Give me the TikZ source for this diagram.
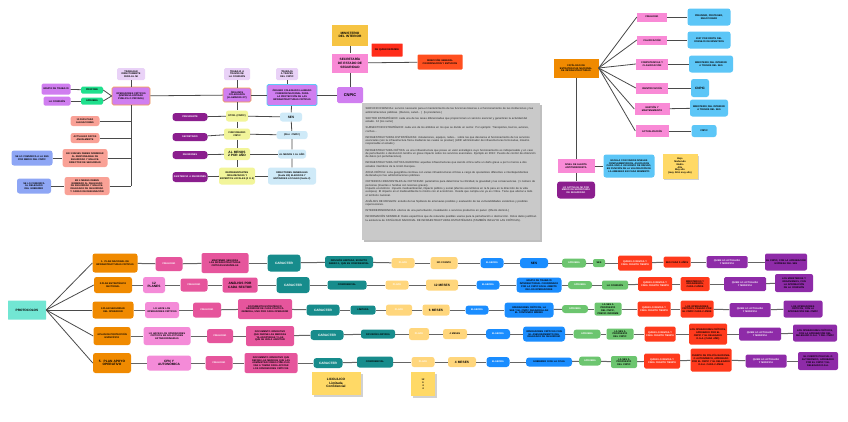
\documentclass[tikz,border=0pt]{standalone}
\usepackage{fontspec}
\setmainfont{Liberation Sans}
\definecolor{cLav}{HTML}{E9D2F7}
\definecolor{cPur}{HTML}{D07EF0}
\definecolor{cOrB}{HTML}{F5A04A}
\definecolor{cBlB}{HTML}{5EC8F7}
\definecolor{cGrn}{HTML}{1FE08D}
\definecolor{cSal}{HTML}{F9A196}
\definecolor{cPeri}{HTML}{8EA6F5}
\definecolor{cLyel}{HTML}{F2F59A}
\definecolor{cDpur}{HTML}{8B1E8E}
\definecolor{cLblu}{HTML}{CFEAF8}
\definecolor{cGold}{HTML}{F6C443}
\definecolor{cPinkS}{HTML}{F98AD6}
\definecolor{cRed}{HTML}{FF2D1A}
\definecolor{cRedO}{HTML}{FF4F1F}
\definecolor{cOrng}{HTML}{F08A00}
\definecolor{cSky}{HTML}{5CC6F7}
\definecolor{cSticky}{HTML}{FFD966}
\definecolor{cTealL}{HTML}{72E6D3}
\definecolor{cHpk}{HTML}{E6559C}
\definecolor{cLpk}{HTML}{F48BD8}
\definecolor{cDtl}{HTML}{178C8C}
\definecolor{cYlw}{HTML}{FFD67C}
\definecolor{cBlu}{HTML}{1A8DFF}
\definecolor{cGrnB}{HTML}{6CC56F}
\definecolor{cRdd}{HTML}{FF3A1C}
\definecolor{cPu}{HTML}{8E2BA8}
\definecolor{cGray}{HTML}{C9C9C9}
\definecolor{cLine}{HTML}{4A4A4A}
\newcommand\fa{\fontsize{2.4}{2.8}\selectfont\bfseries\hyphenpenalty10000\exhyphenpenalty10000}
\newcommand\fb{\fontsize{3.2}{3.7}\selectfont\bfseries\hyphenpenalty10000\exhyphenpenalty10000}
\newcommand\fc{\fontsize{4}{4.6}\selectfont\bfseries\hyphenpenalty10000\exhyphenpenalty10000}
\newcommand\ftiny{\fontsize{2.75}{3.3}\selectfont\parindent0pt\parskip2.9pt\hyphenpenalty10000}
\newcommand\bx[8]{\node[#6,minimum width=#4pt,minimum height=#5pt,text width=#4pt-2pt,font=#7] (#1) at (#2,#3) {#8};}
\tikzset{
 bx/.style={rounded corners=1.5pt, inner xsep=1pt, inner ysep=0.3pt, align=center, text=black},
 lav/.style={bx, fill=cLav},
 pur/.style={bx, fill=cPur},
 purO/.style={bx, fill=cPur, draw=cOrB, line width=0.6pt},
 purB/.style={bx, fill=cPur, draw=cBlB, line width=0.8pt},
 grn/.style={bx, fill=cGrn},
 sal/.style={bx, fill=cSal, rounded corners=2.5pt},
 peri/.style={bx, fill=cPeri, rounded corners=2.5pt},
 lyel/.style={bx, fill=cLyel, rounded corners=2.5pt},
 dpur/.style={bx, fill=cDpur, text=white, rounded corners=3pt},
 lblu/.style={bx, fill=cLblu, rounded corners=2.5pt},
 gold/.style={bx, fill=cGold, rounded corners=0pt},
 pinkS/.style={bx, fill=cPinkS, rounded corners=0pt},
 redb/.style={bx, fill=cRed, rounded corners=0.5pt},
 redO/.style={bx, fill=cRedO, rounded corners=1pt},
 orng/.style={bx, fill=cOrng, rounded corners=0pt},
 sky/.style={bx, fill=cSky, rounded corners=2.5pt},
 sticky/.style={bx, fill=cSticky, rounded corners=0pt},
 tealL/.style={bx, fill=cTealL, rounded corners=0.5pt},
 orP/.style={bx, fill=cOrng, rounded corners=2.5pt},
 hpk/.style={bx, fill=cHpk, text=white, rounded corners=2.5pt},
 hpkD/.style={bx, fill=cHpk, rounded corners=2pt},
 lpk/.style={bx, fill=cLpk, rounded corners=2.5pt},
 dtl/.style={bx, fill=cDtl, text=white, rounded corners=3pt},
 dtlD/.style={bx, fill=cDtl, rounded corners=2.5pt},
 ylw/.style={bx, fill=cYlw, text=white, rounded corners=2.5pt},
 ylwD/.style={bx, fill=cYlw, rounded corners=2.5pt},
 blu/.style={bx, fill=cBlu, text=white, rounded corners=3pt},
 bluD/.style={bx, fill=cBlu, rounded corners=3pt},
 grnB/.style={bx, fill=cGrnB, text=white, rounded corners=3pt},
 grnD/.style={bx, fill=cGrnB, rounded corners=2pt},
 rd/.style={bx, fill=cRdd, text=white, rounded corners=1.5pt},
 rdD/.style={bx, fill=cRdd, rounded corners=1.5pt},
 pu/.style={bx, fill=cPu, text=white, rounded corners=1.5pt},
 puD/.style={bx, fill=cPu, rounded corners=2pt},
 conn/.style={draw=cLine, line width=0.8pt},
 rowc/.style={draw=cLine!85, line width=1pt},
}
\begin{document}
\begin{tikzpicture}[x=1pt,y=-1pt]
\path[use as bounding box, fill=white] (0,0) rectangle (848,421);
% ---------- top left ----------
\bx{trab}{131}{74}{28}{12}{lav}{\fa}{TRABAJAN DIRECTAMENTE PARA EL MI}
\bx{grupo}{56}{89}{29}{11}{pur}{\fa}{GRUPO DE TRABAJO}
\bx{prop}{92}{90}{22}{7}{grn}{\fa}{PROPONE}
\bx{lacom}{57}{101}{27}{9}{pur}{\fa}{LA COMISIÓN}
\bx{apr0}{92}{101}{22}{7}{grn}{\fa}{APRUEBA}
\bx{oper}{131}{96}{38}{18}{purO}{\fa}{OPERADORES CRÍTICOS (EMPRESA ENTIDAD PÚBLICA O PRIVADA)}
\bx{s1}{85}{121}{29}{10}{sal}{\fa}{15 DÍAS PARA ALEGACIONES}
\bx{s2}{85}{138}{29}{10}{sal}{\fa}{ACTUALIZA DATOS ANUALMENTE}
\bx{s3}{85}{158}{45}{18}{sal}{\fa}{EN 3 MESES DEBEN NOMBRAR AL RESPONSABLE DE SEGURIDAD Y ENLACE. DIRECTOR DE SEGURIDAD}
\bx{s4}{87}{186}{45}{18}{sal}{\fa}{EN 4 MESES DEBEN NOMBRAR AL DELEGADO DE SEGURIDAD Y ENLACE. DELEGADO DE SEGURIDAD Y CARGO DE DESIGNACIÓN}
\bx{pb1}{32}{158}{41}{15}{peri}{\fa}{SE LO COMUNICA A LA SES POR MEDIO DEL CNPIC}
\bx{pb2}{34}{186}{34}{15}{peri}{\fa}{SE LO COMUNICA AL DELEGADO DEL GOBIERNO}
% ---------- top middle ----------
\bx{orga}{237}{95}{28}{14}{purO}{\fa}{ÓRGANOS COLEGIADOS (LLAMADOS GT)}
\bx{tcom}{237}{74}{26}{12}{lav}{\fa}{TRABAJA A TRAVÉS DE LA COMISIÓN}
\bx{comi}{292}{95}{50}{21}{purB}{\fa}{ÓRGANO COLEGIADO LLAMADO COMISIÓN NACIONAL PARA LA PROTECCIÓN DE LAS INFRAESTRUCTURAS CRÍTICAS}
\bx{tcn}{287}{74}{22}{12}{lav}{\fa}{TRABAJA A TRAVÉS DEL CNPIC}
\bx{cnpic}{350}{95}{26}{16}{pur}{\fc}{CNPIC}
\bx{mint}{350}{35}{36}{21}{gold}{\fb}{MINISTERIO DEL INTERIOR}
\bx{sec}{350}{63}{36}{19}{pinkS}{\fb}{SECRETARÍA DE ESTADO DE SEGURIDAD}
\bx{dep}{387}{50}{31}{13}{redb}{\fa}{DE QUIEN DEPENDE}
\bx{dir}{440}{62}{45}{15}{redO}{\fa}{DIRECCIÓN GENERAL COORDINACIÓN Y ESTUDIOS}
\bx{y1}{237}{116}{22}{11}{lyel}{\fa}{DTOR. (CNPIC)}
\bx{y2}{237}{134}{26}{11}{lyel}{\fa}{FUNCIONARIO CNPIC}
\bx{y3}{237}{154}{26}{12}{lyel}{\fb}{AL MENOS 2 POR AÑO}
\bx{y4}{237}{176}{36}{17}{lyel}{\fa}{REPRESENTANTES ORGANIZADOS Y EXPERTOS LOCALES (2 O 4)}
\bx{pres}{190}{117}{35}{8}{dpur}{\fa}{PRESIDENTE}
\bx{secr}{190}{137}{35}{8}{dpur}{\fa}{SECRETARIO}
\bx{reun}{190}{155}{35}{8}{dpur}{\fa}{REUNIONES}
\bx{asis}{190}{177}{35}{10}{dpur}{\fa}{ASISTENCIA A REUNIONES}
\bx{lb1}{291}{117}{22}{9}{lblu}{\fb}{SES}
\bx{lb2}{292}{135}{31}{8}{lblu}{\fa}{(Dtor. CNPIC)}
\bx{lb3}{292}{154}{28}{9}{lblu}{\fa}{AL MENOS 1 AL AÑO}
\bx{lb4}{292}{176}{48}{17}{lblu}{\fa}{DIRECTORES GENERALES (hasta 4/5) ELEGIDOS Y ENTIDADES LOCALES (hasta 2)}
% ---------- info box ----------
\fill[black!25] (363.5,104.5) rectangle (541.5,241.5);
\node[fill=cGray, minimum width=178pt, minimum height=137pt, inner sep=0pt, anchor=north west] (info) at (362,103) {};
\node[anchor=north west, text width=171pt, align=left, inner sep=0pt, font=\ftiny, text=black!85] (infotxt) at (365.5,107.5) {%
SERVICIO ESENCIAL: servicio necesario para el mantenimiento de las funciones básicas o el funcionamiento de las instituciones y las administraciones públicas. (Bancos, salud... ) (lo prestamos.)\par
SECTOR ESTRATÉGICO: cada una de las áreas diferenciadas que proporcionan un servicio esencial y garantizan la actividad del estado. 12 (los sumo)\par
SUBSECTOR ESTRATÉGICO: cada uno de los ámbitos en los que se divide un sector. Por ejemplo: Transportes, barcos, aviones, coches...\par
INFRAESTRUCTURAS ESTRATÉGICAS: instalaciones, equipos, redes... sobre las que descansa el funcionamiento de los servicios esenciales (son la infraestructura física mediante las cuales se prestan) (ADIF administrador de infraestructuras ferroviarias, máximo responsable el estado.)\par
INFRAESTRUCTURA CRÍTICA: es una infraestructura que posee un valor estratégico cuyo funcionamiento es indispensable y en caso de perturbación o destrucción tendría un grave impacto sobre los servicios esenciales. Ejemplo en 2013: Puesto de control de obtención de datos (en perturbaciones).\par
INFRAESTRUCTURA CRÍTICA EUROPEA: aquellas infraestructuras que siendo crítica sufre un daño grave a por lo menos a dos estados miembros de la Unión Europea.\par
ZONA CRÍTICA: zona geográfica continua con varias infraestructuras críticas a cargo de operadores diferentes e interdependientes declarada por las administraciones públicas.\par
CRITERIOS HORIZONTALES de CRITICIDAD: parámetros para determinar la criticidad, la gravedad y las consecuencias. (1 número de personas (muertes o heridas con lesiones graves).\\
Impacto económico: impacto medioambiental, impacto público y social (efectos económicos en la fe para en la dirección de la vida europea). El impacto en el medioambiente lo mismo con el económico. Desde que cumpla uno ya es crítica. Tiene que afectar a todo el territorio nacional.\par
ANÁLISIS DE RIESGOS: estudio de las hipótesis de amenazas posibles y evaluación de las vulnerabilidades existentes y posibles repercusiones.\par
INTERDEPENDENCIAS: efectos de una perturbación, invalidación o servicios productos en panel. (Efecto dominó.)\par
INFORMACIÓN SENSIBLE: Datos específicos que de relevante posibles usarse para la perturbación o destrucción. Estos datos justifican la existencia de CATÁLOGO NACIONAL DE INFRAESTRUCTURAS ESTRATÉGICAS (TAMBIÉN INCLUYE LAS CRÍTICAS).};
% ---------- top right ----------
\bx{cat}{576}{68}{45}{19}{orng}{\fa}{CATÁLOGO DE ESTRATÉGICAS NACIONAL DE INFRAESTRUCTURAS}
\bx{p1}{652}{17}{30}{9}{pinkS}{\fa}{FINALIDAD}
\bx{p2}{652}{40}{30}{9}{pinkS}{\fa}{CALIFICACIÓN}
\bx{p3}{652}{64}{32}{11}{pinkS}{\fa}{COMPETENCIAS Y CLASIFICACIÓN}
\bx{p4}{652}{88}{32}{11}{pinkS}{\fa}{IDENTIFICACIÓN}
\bx{p5}{652}{109}{35}{12}{pinkS}{\fa}{GESTIÓN Y MANTENIMIENTO}
\bx{p6}{652}{131}{33}{12}{pinkS}{\fa}{ACTUALIZACIÓN}
\bx{k1}{709}{17}{43}{17}{sky}{\fa}{PREVENIR, PROTEGER, REACCIONAR}
\bx{k2}{709}{40}{43}{17}{sky}{\fa}{2007 POR PARTE DEL CONSEJO DE MINISTROS}
\bx{k3}{711}{64}{44}{17}{sky}{\fa}{MINISTERIO DEL INTERIOR A TRAVÉS DEL SES}
\bx{k4}{700}{88}{18}{18}{sky}{\fb}{CNPIC}
\bx{k5}{709}{108}{38}{17}{sky}{\fa}{MINISTERIO DEL INTERIOR A TRAVÉS DEL SES}
\bx{k6}{704}{131}{25}{12}{sky}{\fa}{CNPIC}
\bx{niv}{576}{166}{37}{14}{pinkS}{\fa}{NIVEL DE ALERTA ANTITERRORISTA}
\bx{esc}{629}{166}{51}{23}{sky}{\fa}{ESCALA CON VARIOS NIVELES COMPLEMENTARIOS, ASOCIADOS CADA UNO A UN GRADO DE RIESGO, EN FUNCIÓN DE LA VALORACIÓN DE LA AMENAZA EN CADA MOMENTO}
\fill[black!18] (663.5,155.5) rectangle (698.5,180);
\bx{niv5}{680}{166}{35}{25}{sticky}{\fa}{Bajo\\Moderado\\Medio\\Alto\\Muy alto\\(muy Alto/ muy alto)}
\bx{act}{576}{190}{38}{17}{dpur}{\fa}{LO ACTIVA EL MI POR MEDIO DE SECRETARÍA DE SEGURIDAD}
% ---------- protocols ----------
\bx{prot}{27}{310}{38}{19}{tealL}{\fb}{PROTOCOLOS}
% row 1
\bx{r1c1}{115}{263}{45}{19}{orP}{\fa}{1.\ \ PLAN NACIONAL DE INFRAESTRUCTURAS CRÍTICAS}
\bx{r1c3}{169}{264}{27}{14}{hpk}{\fa}{FINALIDAD}
\bx{r1c4}{225}{263}{47}{20}{hpkD}{\fa}{MANTENER SEGURAS LAS INFRAESTRUCTURAS CRÍTICAS ESPAÑOLAS}
\bx{r1c5}{284}{263}{33}{17}{dtl}{\fb}{CARACTER}
\bx{r1c6}{349}{262}{48}{12}{dtlD}{\fa}{DIFUSIÓN LIMITADA, EXCEPTO ANEXO 1, QUE ES CONFIDENCIAL}
\bx{r1c7}{403}{263}{23}{10}{ylw}{\fa}{PLAZO}
\bx{r1c8}{444}{263}{27}{12}{ylwD}{\fa}{NO CONSTA}
\bx{r1c9}{492}{263}{23}{10}{blu}{\fa}{ELABORA}
\bx{r1c10}{534}{263}{28}{10}{bluD}{\fb}{SES}
\bx{r1c11}{574}{263}{24}{9}{grnB}{\fa}{APRUEBA}
\bx{r1c12}{599}{263}{12}{8}{grnD}{\fa}{SES}
\bx{r1c13}{635}{263}{34}{15}{rd}{\fa}{QUIEN LO REVISA Y CADA CUÁNTO TIEMPO}
\bx{r1c14}{677}{262}{27}{11}{rdD}{\fa}{SES CADA 5 AÑOS}
\bx{r1c15}{727}{262}{41}{12}{pu}{\fa}{QUIEN LO ACTUALIZA Y MODIFICA}
\bx{r1c16}{786}{262}{42}{17}{puD}{\fa}{EL CNPIC, CON LA APROBACIÓN EXPRESA DEL SES}
% row 2
\bx{r2c1}{113}{285}{38}{16}{orP}{\fa}{2.PLAN ESTRATÉGICO SECTORIAL}
\bx{r2c2}{154}{285}{22}{16}{lpk}{\fb}{12\\PLANES}
\bx{r2c3}{194}{285}{27}{13}{hpk}{\fa}{FINALIDAD}
\bx{r2c4}{240}{285}{35}{15}{hpkD}{\fb}{ANÁLISIS POR\\CADA SECTOR}
\bx{r2c5}{293}{285}{33}{16}{dtl}{\fb}{CARACTER}
\bx{r2c6}{347}{285}{39}{9}{dtlD}{\fa}{CONFIDENCIAL}
\bx{r2c7}{397}{285}{23}{9}{ylw}{\fa}{PLAZO}
\bx{r2c8}{442}{285}{32}{11}{ylwD}{\fb}{12 MESES}
\bx{r2c9}{488}{285}{23}{9}{blu}{\fa}{ELABORA}
\bx{r2c10}{539}{285}{45}{15}{bluD}{\fa}{GRUPO DE TRABAJO INTERSECTORIAL COORDINADO POR LA CNPIC EN EL ÁMBITO DE LOS OPERADORES}
\bx{r2c11}{580}{285}{24}{8}{grnB}{\fa}{APRUEBA}
\bx{r2c12}{615}{285}{26}{9}{grnD}{\fa}{LA COMISIÓN}
\bx{r2c13}{655}{284}{34}{14}{rd}{\fa}{QUIEN LO REVISA Y CADA CUÁNTO TIEMPO}
\bx{r2c14}{695}{284}{29}{14}{rdD}{\fa}{MINISTERIOS Y ORGANISMOS, CADA 2 AÑOS}
\bx{r2c15}{745}{284}{42}{14}{pu}{\fa}{QUIEN LO ACTUALIZA Y MODIFICA}
\bx{r2c16}{794}{283}{38}{18}{puD}{\fa}{LOS MINISTERIOS Y ORGANISMOS, CON LA APROBACIÓN DE LA COMISIÓN}
% row 3
\bx{r3c1}{113}{310}{41}{17}{orP}{\fa}{3.PLAN SEGURIDAD DEL OPERADOR}
\bx{r3c2}{162}{310}{34}{16}{lpk}{\fa}{LO HACE LOS OPERADORES CRÍTICOS}
\bx{r3c3}{207}{310}{28}{15}{hpk}{\fa}{FINALIDAD}
\bx{r3c4}{265}{309}{54}{20}{hpkD}{\fa}{DOCUMENTO ESTRATÉGICO DEFINIDOR DE CADA POLÍTICA GENERAL, UNO POR CADA OPERADOR}
\bx{r3c5}{323}{310}{33}{11}{dtl}{\fb}{CARACTER}
\bx{r3c6}{363}{310}{25}{9}{dtlD}{\fa}{LIMITADA}
\bx{r3c7}{399}{310}{26}{11}{ylw}{\fa}{PLAZO}
\bx{r3c8}{436}{310}{27}{11}{ylwD}{\fb}{6 MESES}
\bx{r3c9}{477}{310}{23}{9}{blu}{\fa}{ELABORA}
\bx{r3c10}{529}{310}{49}{15}{bluD}{\fa}{OPERADORES CRÍTICOS, LA SES Y EL CNPIC DESARROLLAN EL CONTENIDO MÍNIMO}
\bx{r3c11}{575}{309}{26}{8}{grnB}{\fa}{APRUEBA}
\bx{r3c12}{608}{309}{27}{13}{grnD}{\fa}{LA SES A PROPUESTA DEL CNPIC, PREVIO INFORME}
\bx{r3c13}{654}{309}{33}{15}{rd}{\fa}{QUIEN LO REVISA Y CADA CUÁNTO TIEMPO}
\bx{r3c14}{697}{309}{33}{17}{rdD}{\fa}{LOS OPERADORES CRÍTICOS, PASADO POR EL CNPIC CADA 2 AÑOS}
\bx{r3c15}{750}{310}{41}{14}{pu}{\fa}{QUIEN LO ACTUALIZA Y MODIFICA}
\bx{r3c16}{803}{309}{39}{17}{puD}{\fa}{LOS OPERADORES CRÍTICOS, CON LA APROBACIÓN DEL CNPIC}
% row 4
\bx{r4c1}{112}{336}{37}{18}{orP}{\fa}{4.PLAN DE PROTECCIÓN ESPECÍFICO}
\bx{r4c2}{167}{336}{47}{18}{lpk}{\fa}{LO HACEN LOS OPERADORES CRÍTICOS EN SOLICITUDES EXTRAORDINARIAS}
\bx{r4c3}{220}{336}{26}{14}{hpk}{\fa}{FINALIDAD}
\bx{r4c4}{270}{336}{48}{20}{hpkD}{\fa}{DOCUMENTO OPERATIVO QUE DEFINE LAS MEDIDAS YA ADOPTADAS Y LAS QUE SE VAN A ADOPTAR}
\bx{r4c5}{327}{335}{33}{10}{dtl}{\fb}{CARACTER}
\bx{r4c6}{378}{334}{34}{9}{dtlD}{\fa}{DIFUSIÓN LIMITADA}
\bx{r4c7}{419}{334}{20}{12}{ylw}{\fa}{PLAZO}
\bx{r4c8}{455}{334}{24}{10}{ylwD}{\fa}{4 MESES}
\bx{r4c9}{498}{334}{24}{10}{blu}{\fa}{ELABORA}
\bx{r4c10}{544}{334}{42}{15}{bluD}{\fa}{OPERADORES CRÍTICOS CON EL ASESORAMIENTO DEL DELEGADO DE SEGURIDAD}
\bx{r4c11}{587}{334}{27}{9}{grnB}{\fa}{APRUEBA}
\bx{r4c12}{620}{334}{27}{11}{grnD}{\fa}{LA SES A PROPUESTA DEL CNPIC}
\bx{r4c13}{660}{334}{31}{15}{rd}{\fa}{QUIEN LO REVISA Y CADA CUÁNTO TIEMPO}
\bx{r4c14}{708}{334}{38}{21}{rdD}{\fa}{LOS OPERADORES CRÍTICOS, APROBADO POR EL CNPIC Y EL DELEGADO D.G.A. (CADA AÑO)}
\bx{r4c15}{760}{334}{42}{13}{pu}{\fa}{QUIEN LO ACTUALIZA Y MODIFICA}
\bx{r4c16}{815}{333}{44}{17}{puD}{\fa}{LOS OPERADORES CRÍTICOS, CON LA APROBACIÓN DEL DELEGADO D.G.A. Y DEL CNPIC}
% row 5
\bx{r5c1}{112}{363}{38}{20}{orP}{\fb}{5.\ \ PLAN APOYO OPERATIVO}
\bx{r5c2}{169}{363}{44}{15}{lpk}{\fb}{CPN Y\\AUTONÓMICA}
\bx{r5c3}{219}{363}{27}{14}{hpk}{\fa}{FINALIDAD}
\bx{r5c4}{271}{363}{53}{20}{hpkD}{\fa}{DOCUMENTO OPERATIVO QUE DEFINE LAS MEDIDAS QUE LAS ADMINISTRACIONES PÚBLICAS VAN A TOMAR PARA APOYAR LOS OPERADORES CRÍTICOS}
\bx{r5c5}{328}{363}{29}{10}{dtl}{\fb}{CARACTER}
\bx{r5c6}{375}{362}{36}{11}{dtlD}{\fa}{CONFIDENCIAL}
\bx{r5c7}{423}{362}{23}{10}{ylw}{\fa}{PLAZO}
\bx{r5c8}{462}{362}{28}{10}{ylwD}{\fb}{4 MESES}
\bx{r5c9}{498}{362}{23}{10}{blu}{\fa}{ELABORA}
\bx{r5c10}{549}{362}{46}{9}{bluD}{\fa}{GOBIERNO O DE LA CCAA}
\bx{r5c11}{590}{361}{22}{9}{grnB}{\fa}{APRUEBA}
\bx{r5c12}{624}{362}{26}{12}{grnD}{\fa}{LA SES A PROPUESTA DEL CNPIC}
\bx{r5c13}{662}{361}{36}{15}{rd}{\fa}{QUIEN LO REVISA Y CADA CUÁNTO TIEMPO}
\bx{r5c14}{711}{360}{41}{23}{rdD}{\fa}{CUERPO DE POLICÍA NACIONAL O AUTONÓMICO, APROBADO POR EL CNPIC Y EL DELEGADO D.G.A. CADA 2 AÑOS}
\bx{r5c15}{766}{361}{41}{13}{pu}{\fa}{QUIEN LO ACTUALIZA Y MODIFICA}
\bx{r5c16}{818}{361}{40}{18}{puD}{\fa}{EL CUERPO POLICIAL O AUTONÓMICO, APROBADO POR EL CNPIC Y EL DELEGADO D.G.A.}
% sticky notes
\fill[black!18] (313.5,373.5) rectangle (362.5,396.5);
\bx{n1}{336}{383}{49}{23}{sticky}{\fb}{LICOLILICO\\Limitada\\Confidencial}
\fill[black!18] (412.5,373.5) rectangle (436.5,397.5);
\bx{n2}{423}{384}{24}{24}{sticky}{\fa}{12\\6\\4\\4}
% ---------- connectors ----------
\draw[conn] (grupo) -- (prop);
\draw[conn] (lacom) -- (apr0);
\draw[conn] (prop.east) -- (oper.west);
\draw[conn] (apr0.east) -- (oper.west);
\draw[conn] (trab) -- (oper);
\draw[conn] (oper.south) -- (oper.south |- s4.east);
\foreach \s in {s1,s2,s3,s4} {\draw[conn] (\s.east) -- (\s.east -| oper.south);}
\draw[conn] (pb1) -- (s3);
\draw[conn] (pb2) -- (s4);
\draw[conn] (oper) -- (orga);
\draw[conn] (orga) -- (comi);
\draw[conn] (comi) -- (cnpic);
\draw[conn] (tcom) -- (orga);
\draw[conn] (tcn.south) -- (tcn.south |- comi.north);
\draw[conn] (orga) -- (y1) -- (y2) -- (y3) -- (y4);
\draw[conn] (comi) -- (lb1) -- (lb2) -- (lb3) -- (lb4);
\draw[conn] (pres) -- (y1);
\draw[conn] (secr) -- (y2);
\draw[conn] (reun) -- (y3);
\draw[conn] (asis) -- (y4);
\draw[conn] (y1) -- (lb1);
\draw[conn] (y2) -- (lb2);
\draw[conn] (y3) -- (lb3);
\draw[conn] (y4) -- (lb4);
\draw[conn] (mint) -- (sec);
\draw[conn] (sec) -- (cnpic);
\draw[conn] (sec) -- (dir);
\foreach \i in {1,...,6} {\draw[conn] (cat.east) -- (p\i.west); \draw[conn] (p\i) -- (k\i);}
\draw[conn] (cat) -- (niv);
\draw[conn] (niv) -- (act);
\draw[conn] (niv) -- (esc);
\foreach \rr in {1,...,5} {\draw[conn] (prot.east) -- (r\rr c1.west);}
\draw[rowc] (r1c1) -- (r1c3);
\foreach \cc [evaluate=\cc as \nn using int(\cc+1)] in {3,...,15} {\draw[rowc] (r1c\cc) -- (r1c\nn);}
\foreach \rr in {2,...,5} {
  \foreach \cc [evaluate=\cc as \nn using int(\cc+1)] in {1,...,15} {\draw[rowc] (r\rr c\cc) -- (r\rr c\nn);}
}
\end{tikzpicture}
\end{document}
